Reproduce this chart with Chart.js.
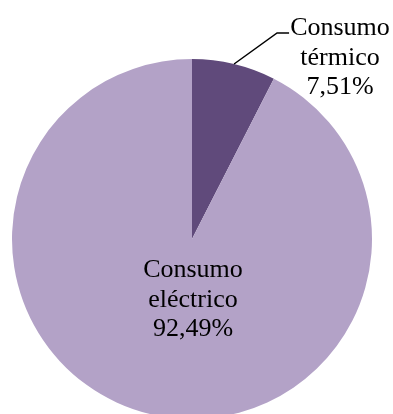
<!DOCTYPE html>
<html>
<head>
<meta charset="utf-8">
<script src="https://cdn.jsdelivr.net/npm/chart.js@4.4.1/dist/chart.umd.min.js"></script>
<style>
  html, body { margin: 0; padding: 0; background: #fff; overflow: hidden; }
  #wrap { position: absolute; left: 0; top: 0; width: 393px; height: 420px; }
</style>
</head>
<body>
<div id="wrap"><canvas id="pie" width="393" height="420"></canvas></div>
<script>
/* --------------- Data --------------- */
const labels = [["Consumo", "térmico"], ["Consumo", "eléctrico"]];
const shares = [7.51, 92.49];
const colors = ["#604A7B", "#B3A2C7"];

const fmt = (v) => v.toFixed(2).replace(".", ",") + "%";

/* --------------- Labels drawn next to / inside the slices --------------- */
const sliceLabels = {
  id: "sliceLabels",
  afterDatasetsDraw(chart) {
    const ctx = chart.ctx;
    const arcs = chart.getDatasetMeta(0).data;
    ctx.save();
    ctx.fillStyle = "#000";
    ctx.font = "26px 'Liberation Serif', 'Times New Roman', serif";
    ctx.textAlign = "center";
    ctx.textBaseline = "alphabetic";
    const lineH = 29.5;

    // small slice: leader line from the arc edge up to the text
    const a = arcs[0];
    const mid = (a.startAngle + a.endAngle) / 2;
    const ex = a.x + Math.cos(mid) * a.outerRadius;
    const ey = a.y + Math.sin(mid) * a.outerRadius;
    ctx.strokeStyle = "#000";
    ctx.lineWidth = 1.5;
    ctx.beginPath();
    ctx.moveTo(ex, ey);
    ctx.lineTo(ex + 43, ey - 31);
    ctx.lineTo(ex + 55, ey - 31);
    ctx.stroke();
    const t0 = [...labels[0], fmt(shares[0])];
    t0.forEach((s, i) => ctx.fillText(s, a.x + 148, 35 + i * lineH));

    // big slice: text in the lower half
    const b = arcs[1];
    const t1 = [...labels[1], fmt(shares[1])];
    t1.forEach((s, i) => ctx.fillText(s, b.x + 1, b.y + 38 + i * lineH));
    ctx.restore();
  },
};

new Chart(document.getElementById("pie"), {
  type: "pie",
  plugins: [sliceLabels],
  data: {
    labels: labels.map((l) => l.join(" ")),
    datasets: [
      {
        data: shares,
        backgroundColor: colors,
        borderWidth: 0,
      },
    ],
  },
  options: {
    responsive: false,
    devicePixelRatio: 1,
    animation: false,
    layout: { padding: { top: 59, left: 12, right: 21, bottom: 1 } },
    plugins: {
      legend: { display: false },
      tooltip: { enabled: false },
    },
  },
});
</script>
</body>
</html>
